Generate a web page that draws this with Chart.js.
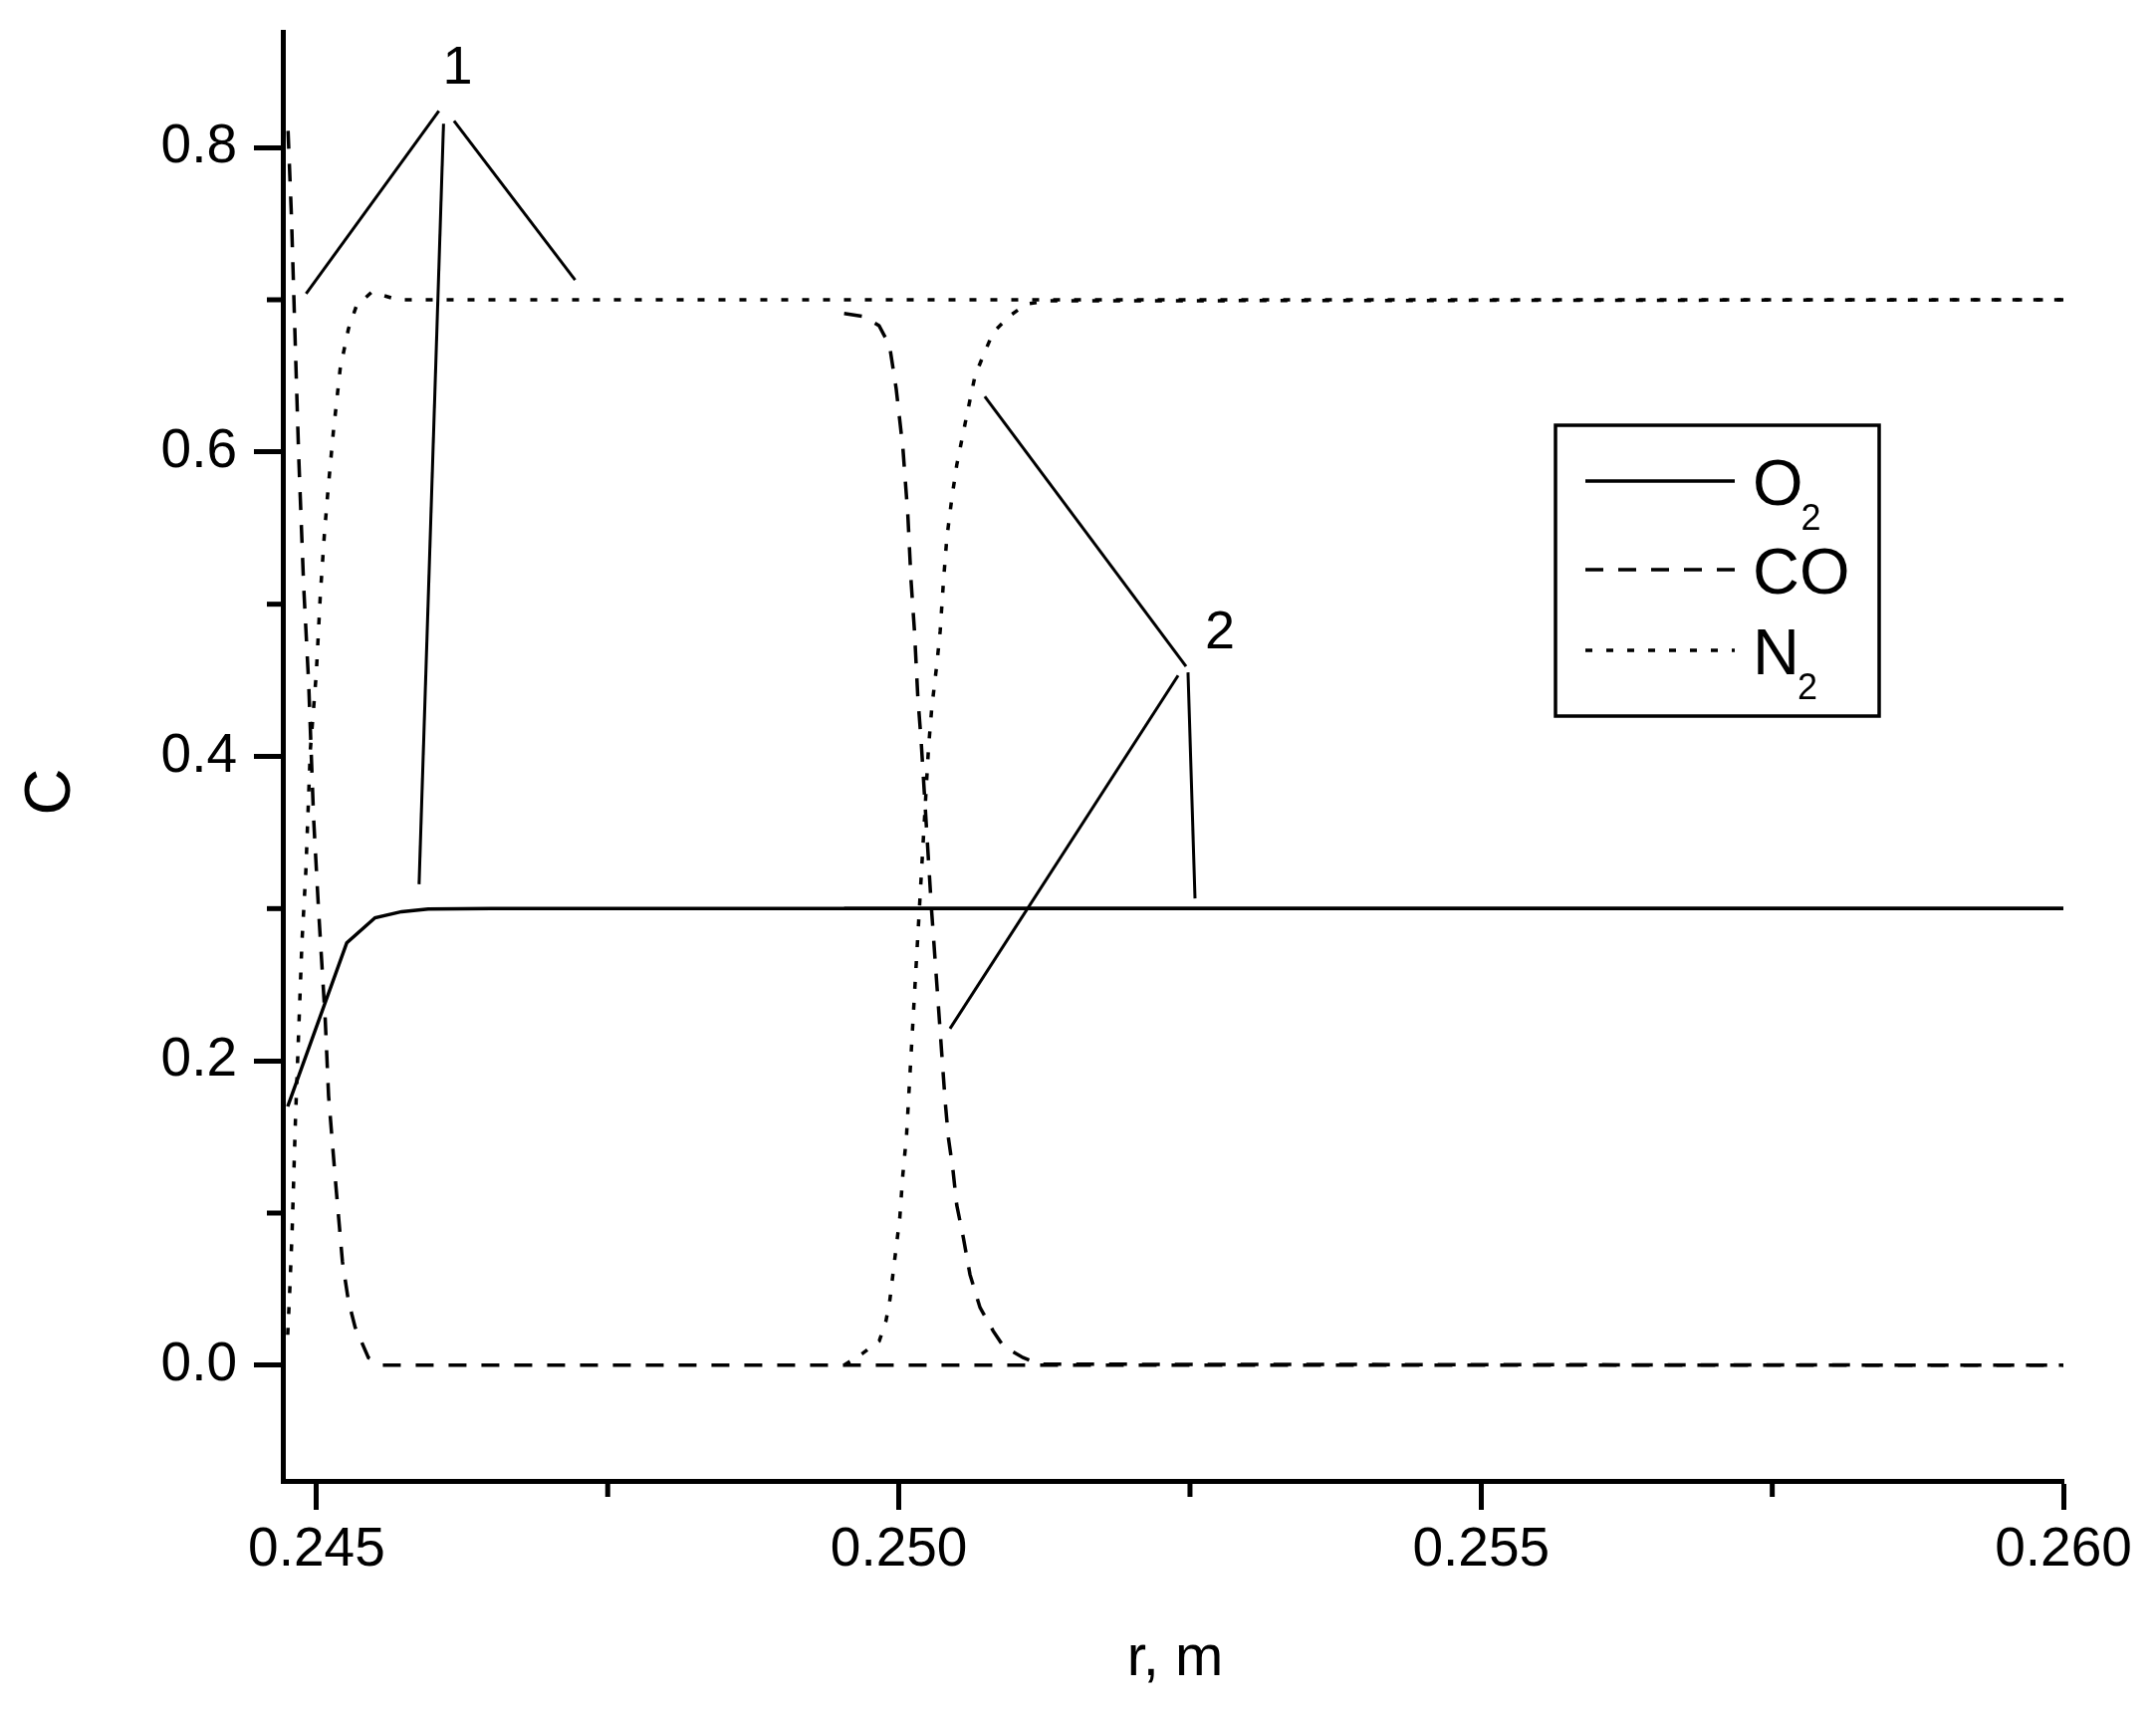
<!DOCTYPE html>
<html>
<head>
<meta charset="utf-8">
<script src="https://cdn.jsdelivr.net/npm/chart.js@4.4.1/dist/chart.umd.min.js"></script>
<style>
  html, body { margin: 0; padding: 0; background: #fff; }
  canvas { display: block; }
</style>
</head>
<body>
<canvas id="chart1" width="2165" height="1716"></canvas>
<script>
// profile 1 (surface near r = 0.24475 m)
var r_O2_1 = [0.244752, 0.245259, 0.245502, 0.245730, 0.245958, 0.2465, 0.2600];
var c_O2_1 = [0.170, 0.2775, 0.294, 0.298, 0.2997, 0.300, 0.300];

var r_CO_1 = [0.244755, 0.244784, 0.244818, 0.244846, 0.244889, 0.244932, 0.244974, 0.245017, 0.245074,
              0.245103, 0.245160, 0.245222, 0.245274, 0.245331, 0.245445, 0.245556, 0.2600];
var c_CO_1 = [0.811, 0.755, 0.668, 0.598, 0.512, 0.448, 0.360, 0.299, 0.2275,
              0.177, 0.123, 0.068, 0.042, 0.025, 0.005, 0.0, 0.0];

var r_N2_1 = [0.244752, 0.244770, 0.244790, 0.244818, 0.244846, 0.244874, 0.244908, 0.244946, 0.244997, 0.245032,
              0.245068, 0.245097, 0.245145, 0.245203, 0.245274, 0.245342, 0.245473, 0.245700, 0.2600];
var c_N2_1 = [0.020, 0.050, 0.088, 0.160, 0.219, 0.2775, 0.325, 0.404, 0.454, 0.506,
              0.547, 0.574, 0.614, 0.655, 0.681, 0.696, 0.705, 0.700, 0.700];

// profile 2 (surface near r = 0.2495 m)
var r_O2_2 = [0.24953, 0.2600];
var c_O2_2 = [0.300, 0.300];

var r_CO_2 = [0.24953, 0.249700, 0.249830, 0.249920, 0.249977, 0.250035, 0.250077, 0.250105, 0.250134, 0.250163,
              0.250191, 0.250280, 0.250398, 0.250426, 0.250463, 0.250497, 0.250554, 0.250611, 0.250697, 0.250811,
              0.250896, 0.251067, 0.251210, 0.2600];
var c_CO_2 = [0.691, 0.689, 0.683, 0.670, 0.6416, 0.6024, 0.5587, 0.5152, 0.4825, 0.4389,
              0.4107, 0.300, 0.173, 0.149, 0.1294, 0.1053, 0.0837, 0.0595, 0.0379, 0.0224,
              0.0126, 0.0050, 0.0007, 0.0];

var r_N2_2 = [0.24953, 0.249692, 0.249832, 0.249889, 0.249923, 0.249966, 0.250008, 0.250034, 0.250066, 0.250085,
              0.250130, 0.250195, 0.250255, 0.250283, 0.250326, 0.250355, 0.250383, 0.250412, 0.250455, 0.250497,
              0.250583, 0.250654, 0.250725, 0.250811, 0.250953, 0.251096, 0.251296, 0.2600];
var c_N2_2 = [0.000, 0.008, 0.016, 0.029, 0.043, 0.0705, 0.0967, 0.125, 0.151, 0.177,
              0.238, 0.325, 0.406, 0.432, 0.4605, 0.4825, 0.515, 0.5435, 0.5697, 0.5914,
              0.624, 0.650, 0.6634, 0.6787, 0.6895, 0.6972, 0.6993, 0.700];

// leader lines for the curve labels, [r0, c0, r1, c1]
var leaders1 = [[0.24605, 0.824, 0.24491, 0.704],
                [0.24609, 0.8156, 0.24588, 0.316],
                [0.24618, 0.8175, 0.24722, 0.713]];
var leaders2 = [[0.250738, 0.6364, 0.252466, 0.4591],
                [0.252398, 0.4532, 0.250439, 0.2211],
                [0.252483, 0.4552, 0.252543, 0.3067]];
var curveLabels = ['1', '2'];
var curveLabelAt = [[0.24621, 0.852], [0.252757, 0.4807]];

var xTicks = [0.245, 0.250, 0.255, 0.260];
var xMinorTicks = [0.2475, 0.2525, 0.2575];
var yTicks = [0.0, 0.2, 0.4, 0.6, 0.8];
var yMinorTicks = [0.1, 0.3, 0.5, 0.7];

var legendNames = [['O', '2'], ['CO', ''], ['N', '2']];

var FONT = "'Liberation Sans', Arial, sans-serif";
var solid = [], dashed = [18, 15], dotted = [7, 14];

function pts(xs, ys) {
    return xs.map(function (x, i) { return { x: x, y: ys[i] }; });
}
function line(label, xs, ys, dash) {
    return {
        label: label,
        data: pts(xs, ys),
        borderColor: '#000',
        borderWidth: 3.5,
        borderDash: dash,
        pointRadius: 0,
        tension: 0,
        fill: false
    };
}

var datasets = [
    line('O2', r_O2_1, c_O2_1, solid),
    line('CO', r_CO_1, c_CO_1, dashed),
    line('N2', r_N2_1, c_N2_1, dotted),
    line('O2 (2)', r_O2_2, c_O2_2, solid),
    line('CO (2)', r_CO_2, c_CO_2, dashed),
    line('N2 (2)', r_N2_2, c_N2_2, dotted)
];
leaders1.concat(leaders2).forEach(function (l) {
    var d = line('leader', [l[0], l[2]], [l[1], l[3]], solid);
    d.borderWidth = 3;
    datasets.push(d);
});

var extras = {
    id: 'extras',
    afterDraw: function (chart) {
        var ctx = chart.ctx, xs = chart.scales.x, ys = chart.scales.y, a = chart.chartArea;
        ctx.save();
        ctx.strokeStyle = '#000';
        ctx.fillStyle = '#000';
        ctx.lineWidth = 5;
        ctx.lineCap = 'butt';
        yMinorTicks.forEach(function (v) {
            var p = ys.getPixelForValue(v);
            ctx.beginPath(); ctx.moveTo(a.left - 16, p); ctx.lineTo(a.left, p); ctx.stroke();
        });
        xMinorTicks.forEach(function (v) {
            var p = xs.getPixelForValue(v);
            ctx.beginPath(); ctx.moveTo(p, a.bottom); ctx.lineTo(p, a.bottom + 16); ctx.stroke();
        });

        // curve labels
        ctx.font = '54px ' + FONT;
        ctx.textAlign = 'center';
        ctx.textBaseline = 'middle';
        curveLabels.forEach(function (t, i) {
            ctx.fillText(t, xs.getPixelForValue(curveLabelAt[i][0]), ys.getPixelForValue(curveLabelAt[i][1]));
        });

        // axis titles
        ctx.font = '58px ' + FONT;
        ctx.textBaseline = 'alphabetic';
        ctx.fillText('r, m', (a.left + a.right) / 2 + 2, 1682);
        ctx.save();
        ctx.translate(70, 795);
        ctx.rotate(-Math.PI / 2);
        ctx.font = '65px ' + FONT;
        ctx.fillText('C', 0, 0);
        ctx.restore();

        // legend box
        var bx = 1562, by = 427, bw = 325, bh = 292;
        ctx.lineWidth = 3.5;
        ctx.strokeRect(bx, by, bw, bh);
        var rowY = [483, 572, 653];
        var styles = [solid, dashed, dotted];
        legendNames.forEach(function (n, i) {
            ctx.save();
            ctx.lineWidth = 3.5;
            ctx.setLineDash(styles[i]);
            ctx.beginPath(); ctx.moveTo(1592, rowY[i]); ctx.lineTo(1742, rowY[i]); ctx.stroke();
            ctx.restore();
            ctx.textAlign = 'left';
            ctx.textBaseline = 'alphabetic';
            ctx.font = '65px ' + FONT;
            var base = rowY[i] + 24;
            ctx.fillText(n[0], 1760, base);
            if (n[1]) {
                var w = ctx.measureText(n[0]).width;
                ctx.font = '36px ' + FONT;
                ctx.fillText(n[1], 1760 + w - 2, base + 25);
            }
        });
        ctx.restore();
    }
};

var ctx1 = document.getElementById('chart1').getContext('2d');
var chart1 = new Chart(ctx1, {
    type: 'line',
    data: { datasets: datasets },
    options: {
        responsive: false,
        animation: false,
        events: [],
        layout: { padding: { left: 0, right: 93, top: 32, bottom: 0 } },
        plugins: { legend: { display: false }, tooltip: { enabled: false } },
        scales: {
            x: {
                type: 'linear',
                min: 0.24471,
                max: 0.260,
                afterBuildTicks: function (s) { s.ticks = xTicks.map(function (v) { return { value: v }; }); },
                afterFit: function (s) { s.height = 229; s.paddingLeft = 0; s.paddingRight = 0; },
                ticks: {
                    color: '#000',
                    font: { family: FONT, size: 55 },
                    padding: 8,
                    maxRotation: 0,
                    callback: function (v) { return Number(v).toFixed(3); }
                },
                grid: { drawOnChartArea: false, drawTicks: true, tickLength: 29, tickWidth: 5, tickColor: '#000' },
                border: { display: true, width: 5, color: '#000' }
            },
            y: {
                type: 'linear',
                min: -0.076,
                max: 0.876,
                afterBuildTicks: function (s) { s.ticks = yTicks.map(function (v) { return { value: v }; }); },
                afterFit: function (s) { s.width = 284; s.paddingTop = 0; s.paddingBottom = 0; },
                ticks: {
                    color: '#000',
                    font: { family: FONT, size: 55 },
                    padding: 17,
                    callback: function (v) { return Number(v).toFixed(1); }
                },
                grid: { drawOnChartArea: false, drawTicks: true, tickLength: 29, tickWidth: 5, tickColor: '#000' },
                border: { display: true, width: 5, color: '#000' }
            }
        }
    },
    plugins: [extras]
});
</script>
</body>
</html>
